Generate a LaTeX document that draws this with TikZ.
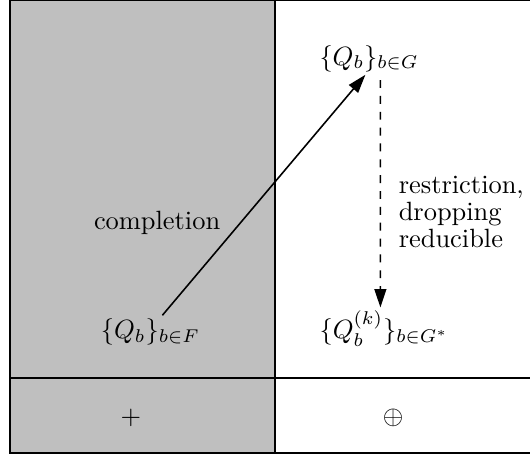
\documentclass[tikz,border=0pt]{standalone}
\usepackage{amsmath,amssymb}
\usetikzlibrary{arrows.meta}

\begin{document}
\begin{tikzpicture}[
    frame/.style={thick},
    set/.style={anchor=base, inner sep=1pt},
    arrow/.style={-{Triangle[length=7pt, width=4.5pt]}, semithick},
    label/.style={align=left, font=\fontsize{10}{10.3}\selectfont}
]
\useasboundingbox (0,0) rectangle (7.05,-6.105);

% Panels
\fill[black!25] (0.133,0) rectangle (3.66,-6.02);
\draw[frame] (7.05,0) -- (0.133,0) -- (0.133,-6.02) -- (7.05,-6.02);
\draw[frame] (3.66,0) -- (3.66,-6.02);
\draw[frame] (0.133,-5.03) -- (7.05,-5.03);

% Sets
\node[set] (F) at (2.00,-4.50) {$\{Q_b\}_{b\in F}$};
\node[set] (G) at (4.91,-0.865) {$\{Q_b\}_{b\in G}$};
\node[set] (Gs) at (5.11,-4.50) {$\{Q_b^{(k)}\}_{b\in G^*}$};

% Labels
\node (compl) at (2.09,-2.97) {completion};
\node[label, anchor=west] (restr) at (5.18,-2.82)
    {restriction,\\dropping\\reducible};
\node (plus) at (1.74,-5.56) {$+$};
\node (oplus) at (5.23,-5.56) {$\oplus$};

% Arrows
\draw[arrow] ([xshift=0.16cm]F.north) -- ([xshift=-0.05cm]G.south);
\draw[arrow, dashed] ([xshift=0.15cm, yshift=-0.07cm]G.south)
    -- ([xshift=-0.05cm]Gs.north);

\end{tikzpicture}
\end{document}
